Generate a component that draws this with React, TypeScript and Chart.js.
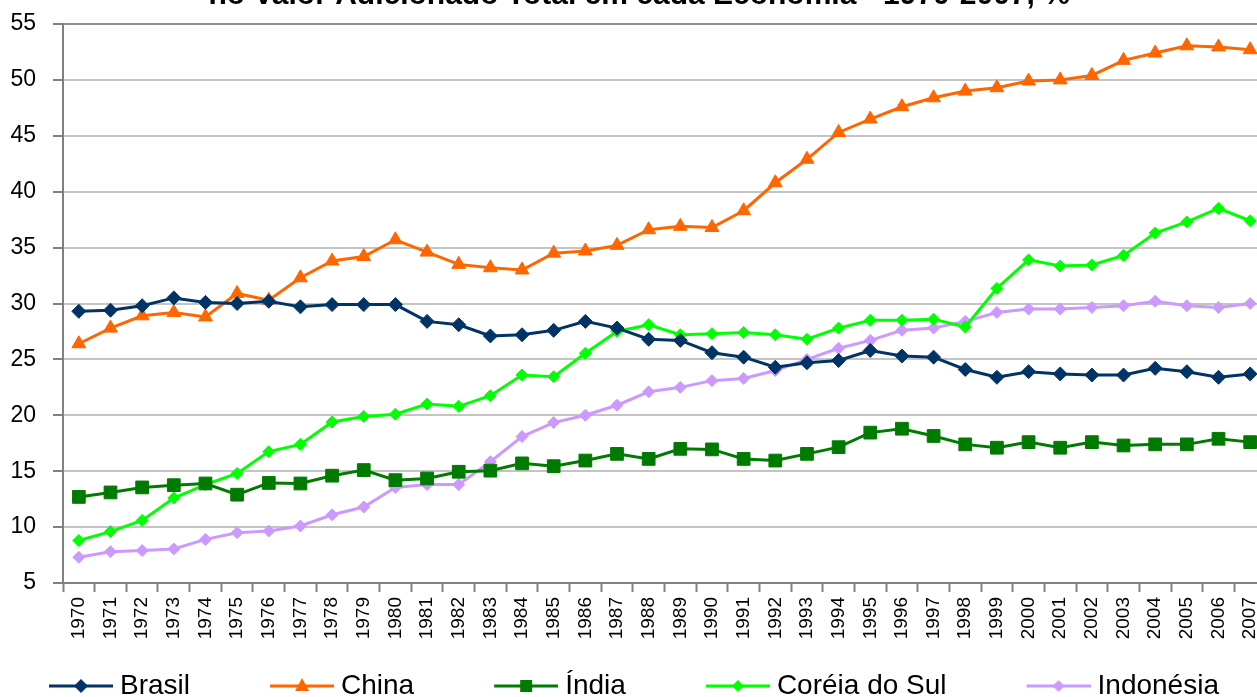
import { useEffect, useRef } from "react";
import { Chart, registerables } from "chart.js";

Chart.register(...registerables);

const FONT = "'Liberation Sans', Arial, sans-serif";

const TITLE = "no Valor Adicionado Total em cada Economia - 1970-2007, %";

const years = [
  "1970", "1971", "1972", "1973", "1974", "1975", "1976", "1977", "1978", "1979",
  "1980", "1981", "1982", "1983", "1984", "1985", "1986", "1987", "1988", "1989",
  "1990", "1991", "1992", "1993", "1994", "1995", "1996", "1997", "1998", "1999",
  "2000", "2001", "2002", "2003", "2004", "2005", "2006", "2007",
];

const brasil = [
  29.3, 29.4, 29.8, 30.5, 30.1, 30.0, 30.2, 29.7, 29.9, 29.9,
  29.9, 28.4, 28.1, 27.1, 27.2, 27.6, 28.4, 27.8, 26.8, 26.7,
  25.6, 25.2, 24.3, 24.7, 24.9, 25.8, 25.3, 25.2, 24.1, 23.4,
  23.9, 23.7, 23.6, 23.6, 24.2, 23.9, 23.4, 23.7,
];

const china = [
  26.4, 27.8, 28.9, 29.2, 28.8, 30.9, 30.3, 32.3, 33.8, 34.2,
  35.7, 34.6, 33.5, 33.2, 33.0, 34.5, 34.7, 35.2, 36.6, 36.9,
  36.8, 38.3, 40.8, 42.9, 45.3, 46.5, 47.6, 48.4, 49.0, 49.3,
  49.9, 50.0, 50.4, 51.75, 52.4, 53.05, 52.95, 52.7,
];

const india = [
  12.7, 13.1, 13.55, 13.75, 13.9, 12.9, 13.95, 13.9, 14.6, 15.1,
  14.2, 14.35, 14.95, 15.05, 15.7, 15.45, 15.95, 16.55, 16.1, 17.0,
  16.95, 16.1, 15.95, 16.55, 17.15, 18.45, 18.8, 18.15, 17.4, 17.1,
  17.6, 17.1, 17.6, 17.3, 17.4, 17.4, 17.9, 17.6,
];

const coreia = [
  8.8, 9.6, 10.6, 12.6, 13.8, 14.8, 16.75, 17.4, 19.4, 19.9,
  20.1, 21.0, 20.8, 21.75, 23.6, 23.45, 25.55, 27.5, 28.1, 27.2,
  27.3, 27.4, 27.2, 26.8, 27.8, 28.5, 28.5, 28.6, 27.9, 31.35,
  33.9, 33.35, 33.45, 34.3, 36.3, 37.3, 38.5, 37.4,
];

const indonesia = [
  7.3, 7.8, 7.9, 8.05, 8.9, 9.5, 9.65, 10.1, 11.1, 11.8,
  13.55, 13.8, 13.8, 15.85, 18.1, 19.35, 20.0, 20.9, 22.1, 22.5,
  23.1, 23.3, 24.0, 25.0, 26.0, 26.7, 27.6, 27.8, 28.4, 29.2,
  29.5, 29.5, 29.65, 29.8, 30.2, 29.8, 29.65, 30.0,
];

const seriesNames = ["Brasil", "China", "Índia", "Coréia do Sul", "Indonésia"];
const seriesData = [brasil, china, india, coreia, indonesia];
const seriesColors = ["#003366", "#FF6600", "#007A00", "#00FF00", "#CC99FF"];
const seriesStyles = ["rectRot", "triangle", "rect", "rectRot", "rectRot"];
const seriesRadius = [7, 8, 9, 6, 6];

const yMin = 5;
const yMax = 55;
const yStep = 5;

function legendIcon(color: string, style: string): HTMLCanvasElement {
  const c = document.createElement("canvas");
  c.width = 141;
  c.height = 26;
  const ctx = c.getContext("2d")!;
  const cy = 13;
  const x0 = 77;
  const x1 = 141;
  const cx = (x0 + x1) / 2;
  ctx.strokeStyle = color;
  ctx.lineWidth = 3;
  ctx.beginPath();
  ctx.moveTo(x0, cy);
  ctx.lineTo(x1, cy);
  ctx.stroke();
  ctx.fillStyle = color;
  ctx.beginPath();
  if (style === "triangle") {
    ctx.moveTo(cx, cy - 8);
    ctx.lineTo(cx + 7, cy + 5);
    ctx.lineTo(cx - 7, cy + 5);
    ctx.closePath();
  } else if (style === "rect") {
    ctx.rect(cx - 6, cy - 6, 12, 12);
  } else {
    const r = color === "#003366" ? 7 : 6;
    ctx.moveTo(cx, cy - r);
    ctx.lineTo(cx + r, cy);
    ctx.lineTo(cx, cy + r);
    ctx.lineTo(cx - r, cy);
    ctx.closePath();
  }
  ctx.fill();
  return c;
}

export default function App() {
  const ref = useRef<HTMLCanvasElement>(null);

  useEffect(() => {
    const canvas = ref.current;
    if (!canvas) return;
    const icons = seriesColors.map((c, i) => legendIcon(c, seriesStyles[i]));

    const datasets = seriesNames.map((name, i) => ({
      label: name,
      data: seriesData[i],
      borderColor: seriesColors[i],
      backgroundColor: seriesColors[i],
      borderWidth: 3,
      tension: 0,
      pointStyle: seriesStyles[i] as any,
      pointRadius: seriesRadius[i],
      pointBackgroundColor: seriesColors[i],
      pointBorderColor: seriesColors[i],
      pointBorderWidth: 1,
      fill: false,
    }));

    const chart = new Chart(canvas, {
      type: "line",
      data: { labels: years, datasets },
      options: {
        responsive: false,
        animation: false,
        devicePixelRatio: 1,
        layout: { padding: 0 },
        plugins: {
          title: {
            display: true,
            text: "    " + TITLE,
            color: "#000",
            font: { family: FONT, size: 30, weight: "bold" },
            padding: { top: 0, bottom: 10 },
          },
          legend: {
            position: "bottom",
            align: "start",
            labels: {
              usePointStyle: true,
              pointStyleWidth: 127,
              padding: 10,
              color: "#000",
              font: { family: FONT, size: 28 },
              generateLabels: (ch: any) => {
                const items = (Chart.defaults.plugins.legend.labels as any).generateLabels(ch);
                items.forEach((it: any, i: number) => {
                  it.pointStyle = icons[i];
                });
                return items;
              },
            },
          },
          tooltip: { enabled: false },
        },
        scales: {
          x: {
            offset: true,
            grid: {
              offset: true,
              drawOnChartArea: false,
              tickLength: 9,
              tickColor: "#808080",
              tickWidth: 2,
            },
            border: { color: "#808080", width: 2 },
            ticks: {
              minRotation: 90,
              maxRotation: 90,
              autoSkip: false,
              padding: 5,
              color: "#000",
              font: { family: FONT, size: 19 },
            },
            afterFit: (s: any) => {
              s.height = 79;
              s.paddingRight = 0;
              s.paddingLeft = 0;
            },
          },
          y: {
            min: yMin,
            max: yMax,
            ticks: {
              stepSize: yStep,
              padding: 17,
              color: "#000",
              font: { family: FONT, size: 23 },
            },
            grid: {
              color: (c: any) => (c.tick && c.tick.value === yMax ? "#8c8c8c" : "#c4c4c4"),
              lineWidth: 2,
              tickLength: 10,
              tickColor: "#808080",
              tickWidth: 2,
            },
            border: { color: "#808080", width: 2 },
            afterFit: (s: any) => {
              s.width = 94;
            },
          },
        },
      } as any,
    });
    return () => chart.destroy();
  }, []);

  return (
    <div
      style={{
        position: "fixed",
        left: -31,
        top: -22,
        width: 1307,
        height: 732,
        overflow: "hidden",
        background: "#fff",
      }}
    >
      <canvas ref={ref} width={1307} height={732} style={{ display: "block", width: 1307, height: 732 }} />
    </div>
  );
}
